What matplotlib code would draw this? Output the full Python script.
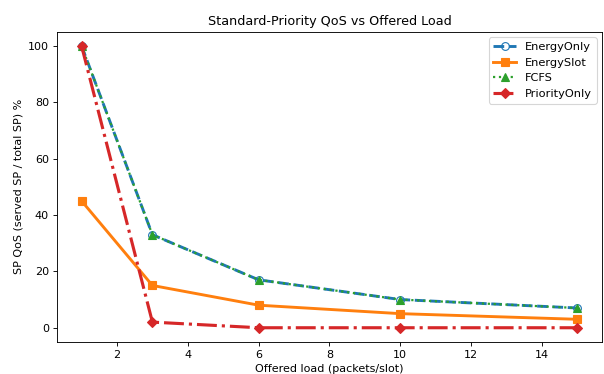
import matplotlib.pyplot as plt

# offered load (packets/slot) and SP QoS per scheduler
load = [1, 3, 6, 10, 15]
energy_only = [100, 33, 17, 10, 7]
energy_slot = [45, 15, 8, 5, 3]
fcfs = [100, 33, 17, 10, 7]
priority_only = [100, 2, 0, 0, 0]

fig, ax = plt.subplots(figsize=(7.55, 4.675), dpi=80)

ax.plot(load, energy_only, '--o', color='tab:blue', lw=2.6, ms=7,
        markerfacecolor='none', label='EnergyOnly')
ax.plot(load, energy_slot, '-s', color='tab:orange', lw=2.6, ms=7,
        label='EnergySlot')
ax.plot(load, fcfs, ':^', color='tab:green', lw=2, ms=7, label='FCFS')
ax.plot(load, priority_only, '-.D', color='tab:red', lw=2.8, ms=7,
        label='PriorityOnly')

ax.set_title('Standard-Priority QoS vs Offered Load', fontsize=11.5)
ax.set_xlabel('Offered load (packets/slot)')
ax.set_ylabel('SP QoS (served SP / total SP) %')
ax.legend(fontsize=10.2)

fig.subplots_adjust(left=0.094, right=0.997, top=0.915, bottom=0.086)
fig.savefig('out.png', dpi=80)
